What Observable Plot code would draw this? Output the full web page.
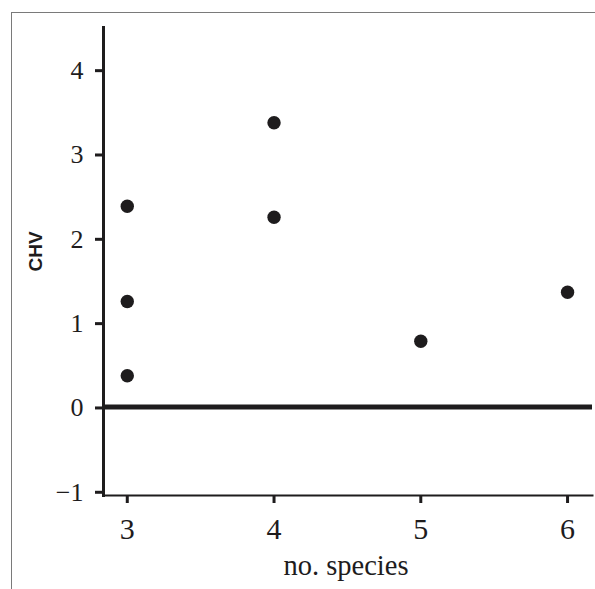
<!DOCTYPE html>
<html>
<head>
<meta charset="utf-8">
<script src="https://cdn.jsdelivr.net/npm/d3@7"></script>
<script src="https://cdn.jsdelivr.net/npm/@observablehq/plot@0.6"></script>
<style>
  html, body { margin: 0; padding: 0; background: #fff; }
  #wrap { position: relative; width: 595px; height: 589px; overflow: hidden; }
  #border { position: absolute; left: 11px; top: 12px; right: -2px; bottom: -2px;
            border-left: 1.5px solid #7a7a7a; border-top: 1.5px solid #7a7a7a; pointer-events: none; }
  svg { display: block; }
</style>
</head>
<body>
<div id="wrap"><div id="border"></div></div>
<script>
// Data
const species = [3, 3, 3, 4, 4, 5, 6];
const chv = [2.38, 1.25, 0.37, 3.37, 2.25, 0.78, 1.36];
const xTicks = [3, 4, 5, 6];
const yTicks = [-1, 0, 1, 2, 3, 4];
const xLabel = "no. species";
const yLabel = "CHV";

const ink = "#1e1c1d";
const serif = "Liberation Serif";
const sans = "Liberation Sans";
const points = species.map((s, i) => ({species: s, chv: chv[i]}));
const fmt = d3.format("d");

const chart = Plot.plot({
  width: 595,
  height: 589,
  marginLeft: 103,
  marginRight: 3,
  marginTop: 27,
  marginBottom: 94,
  x: {domain: [2.838, 6.17]},
  y: {domain: [-1.05, 4.5]},
  style: {fontFamily: serif, background: "transparent", color: ink},
  marks: [
    Plot.ruleY([0], {stroke: ink, strokeWidth: 5}),
    Plot.frame({anchor: "left", stroke: ink, strokeWidth: 3}),
    Plot.frame({anchor: "bottom", stroke: ink, strokeWidth: 2}),
    Plot.axisY(yTicks, {tickSize: 8, tickPadding: 12, fontSize: 26, fontFamily: serif, strokeWidth: 3,
      label: null, dy: 1, tickFormat: fmt}),
    Plot.axisX(xTicks, {tickSize: 8, tickPadding: 14, fontSize: 30, fontFamily: serif, strokeWidth: 3,
      label: null, tickFormat: fmt}),
    Plot.dot(points, {x: "species", y: "chv", r: 6.7, fill: ink, stroke: "none"}),
    Plot.text([yLabel], {text: d => d, frameAnchor: "left", rotate: -90, dx: -68, dy: 10, fontSize: 19,
      fontWeight: "bold", fontFamily: sans, fill: ink}),
    Plot.text([xLabel], {text: d => d, frameAnchor: "bottom", dx: -2, dy: 79.5, fontSize: 28.5,
      fontFamily: serif, fill: ink})
  ]
});
document.getElementById("wrap").insertBefore(chart, document.getElementById("border"));
</script>
</body>
</html>
